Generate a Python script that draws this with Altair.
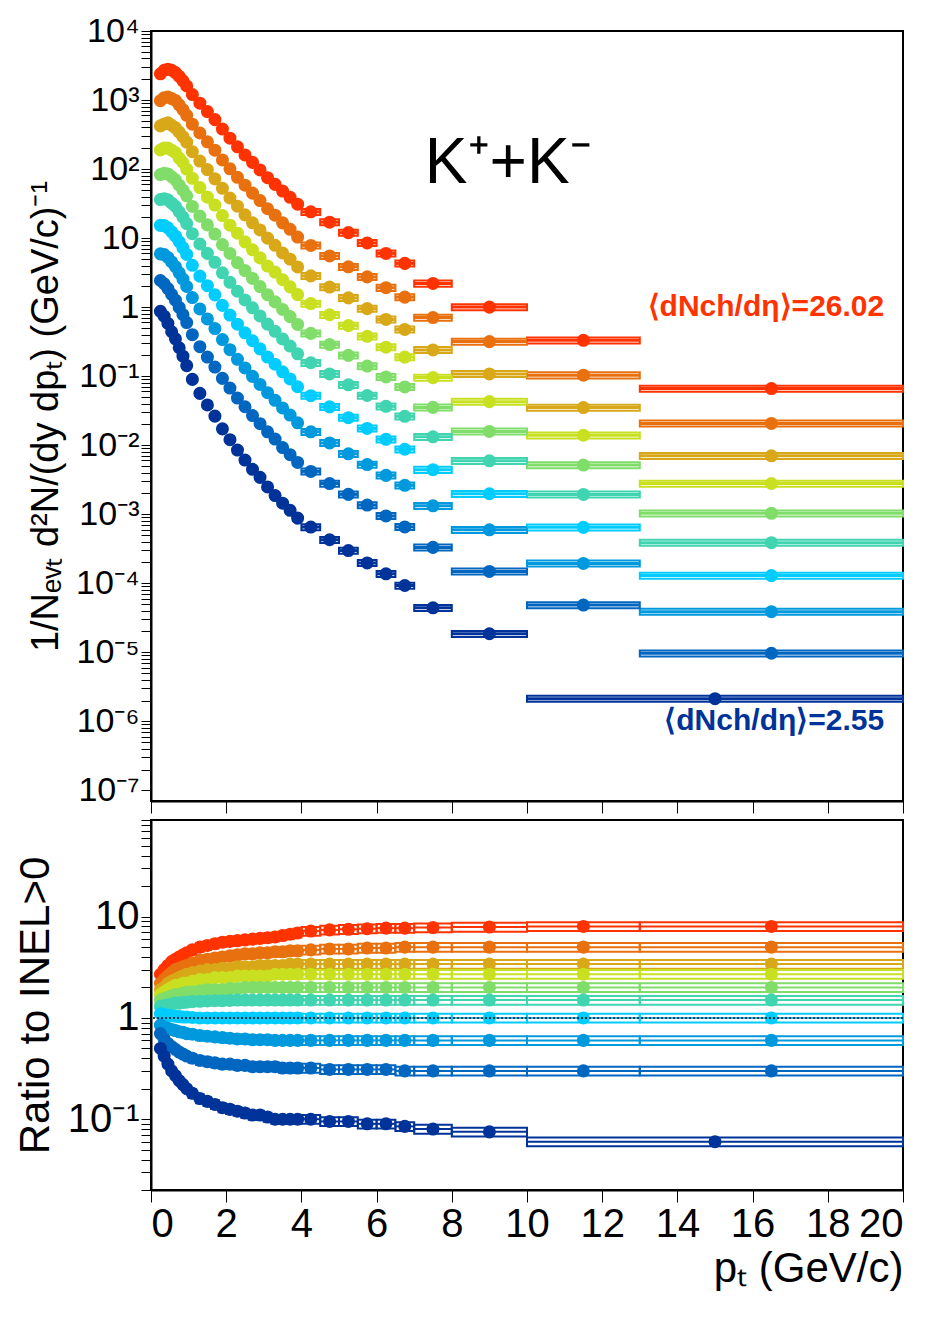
import altair as alt
import pandas as pd

edges = [0.2,0.3,0.4,0.5,0.6,0.7,0.8,0.9,1.0,1.2,1.4,1.6,1.8,2.0,2.2,2.4,2.6,2.8,3.0,3.2,3.4,3.6,3.8,4.0,4.5,5.0,5.5,6.0,6.5,7.0,8.0,10.0,13.0,20.0]
# highest-multiplicity (red) spectrum
red_spec = [2400,2700,2800,2700,2500,2200,1900,1600,1200,900,680,520,380,280,210,160,125,97,75,60,48,39,31,24,17,12,8.5,6.0,4.3,2.2,1.0,0.33,0.066]
names = ["c1","c2","c3","c4","c5","c6","c7","c8","c9","c10"]
colors = ["#ff3300","#e8700f","#d9a818","#c8e020","#80dd6a","#40d4b0","#00ccff","#0099dd","#0066c0","#003399"]
scales = [512,256,128,64,32,16,8,4,2,1]
ratios = [
 [2.7,3.0,3.3,3.6,3.8,4.0,4.2,4.4,4.7,5.0,5.2,5.4,5.6,5.7,5.8,5.9,6.0,6.1,6.2,6.3,6.5,6.7,6.9,7.2,7.4,7.5,7.6,7.7,7.7,7.8,7.9,8.0,8.0],
 [2.2,2.4,2.6,2.8,3.0,3.1,3.2,3.3,3.5,3.7,3.8,3.9,4.0,4.1,4.2,4.3,4.3,4.4,4.4,4.5,4.5,4.6,4.6,4.7,4.8,4.8,4.9,4.9,5.0,5.0,5.0,5.0,5.0],
 [1.9,2.0,2.2,2.3,2.4,2.5,2.6,2.7,2.8,2.9,3.0,3.0,3.1,3.1,3.2,3.2,3.2,3.3,3.3,3.3,3.3,3.4,3.4,3.4,3.4,3.4,3.4,3.4,3.4,3.4,3.4,3.4,3.4],
 [1.7,1.8,1.9,2.0,2.1,2.1,2.2,2.2,2.3,2.4,2.4,2.5,2.5,2.5,2.6,2.6,2.6,2.6,2.6,2.7,2.7,2.7,2.7,2.7,2.7,2.7,2.7,2.7,2.7,2.7,2.7,2.7,2.7],
 [1.5,1.55,1.6,1.65,1.7,1.7,1.75,1.8,1.8,1.85,1.9,1.9,1.9,1.95,1.95,2.0,2.0,2.0,2.0,2.0,2.0,2.0,2.0,2.0,2.0,2.0,2.0,2.0,2.0,2.0,2.0,2.0,2.0],
 [1.3,1.32,1.35,1.37,1.4,1.4,1.42,1.43,1.45,1.46,1.47,1.48,1.48,1.49,1.5,1.5,1.5,1.5,1.5,1.5,1.5,1.5,1.5,1.5,1.5,1.5,1.5,1.5,1.5,1.5,1.5,1.5,1.5],
 [1.1,1.08,1.06,1.05,1.04,1.03,1.02,1.02,1.01,1.0,1.0,1.0,1.0,1.0,1.0,1.0,1.0,1.0,1.0,1.0,1.0,1.0,1.0,1.0,1.0,1.0,1.0,1.0,1.0,1.0,1.0,1.0,1.0],
 [0.85,0.82,0.79,0.77,0.75,0.73,0.72,0.7,0.69,0.67,0.66,0.65,0.64,0.63,0.62,0.62,0.61,0.61,0.61,0.6,0.6,0.6,0.6,0.6,0.6,0.6,0.6,0.6,0.6,0.6,0.6,0.6,0.6],
 [0.7,0.62,0.56,0.52,0.49,0.46,0.44,0.42,0.4,0.38,0.37,0.36,0.35,0.35,0.34,0.34,0.33,0.33,0.33,0.33,0.32,0.32,0.32,0.32,0.31,0.31,0.31,0.31,0.3,0.3,0.3,0.3,0.3],
 [0.5,0.42,0.35,0.3,0.27,0.24,0.22,0.2,0.18,0.16,0.15,0.14,0.13,0.125,0.12,0.115,0.11,0.11,0.105,0.1,0.1,0.1,0.1,0.1,0.095,0.095,0.09,0.09,0.085,0.08,0.075],
]
lowest_last_edges = [10.0, 20.0]
lowest_last_ratio = 0.06

inel = [s / (512 * r) for s, r in zip(red_spec, ratios[0])]
inel_10_20 = (3 * inel[-2] + 7 * inel[-1]) / 10

rows = []
for i in range(10):
    for b in range(len(ratios[i])):
        x0, x1 = edges[b], edges[b + 1]
        r = ratios[i][b]
        rows.append(dict(s=names[i], x0=x0, x1=x1, xc=(x0 + x1) / 2, y=r * inel[b] * scales[i], r=r))
    if i == 9:
        x0, x1 = lowest_last_edges
        r = lowest_last_ratio
        rows.append(dict(s=names[i], x0=x0, x1=x1, xc=15.0, y=r * inel_10_20, r=r))
df = pd.DataFrame(rows)
df["ylo"] = df.y * 0.9
df["yhi"] = df.y * 1.1
df["rlo"] = df.r * 0.9
df["rhi"] = df.r * 1.1

FONT = "Liberation Sans"
col = alt.Color("s:N", scale=alt.Scale(domain=names, range=colors), legend=None)
xs = alt.Scale(domain=[0, 20], nice=False)
sup = "{'-7':'10⁻⁷','-6':'10⁻⁶','-5':'10⁻⁵','-4':'10⁻⁴','-3':'10⁻³','-2':'10⁻²','-1':'10⁻¹','0':'1','1':'10','2':'10²','3':'10³','4':'10⁴'}"
lab = "abs(log(datum.value)/LN10 - round(log(datum.value)/LN10)) < 0.01 ? " + sup + "[''+round(log(datum.value)/LN10)] : ''"

top_ticks = [m * 10 ** e for e in range(-7, 4) for m in range(1, 10)] + [1e4]
bot_ticks = [m * 10 ** e for e in range(-2, 2) for m in range(1, 10) if 0.02 <= m * 10 ** e <= 90]

base = alt.Chart(df)
ys = alt.Scale(type="log", domain=[7e-8, 1e4], nice=False)
xax_top = alt.Axis(labels=False, title=None, values=list(range(0, 21, 2)), tickSize=12, grid=False)
yax_top = alt.Axis(values=top_ticks, labelExpr=lab, labelFontSize=34, labelFont=FONT, grid=False, tickSize=10,
                   title="1/Nₑᵥₜ d²N/(dy dpₜ) (GeV/c)⁻¹", titleFontSize=38, titleFont=FONT, titleFontWeight="normal", titlePadding=10)
box = base.mark_rect(filled=False, strokeWidth=2).encode(
    x=alt.X("x0:Q", scale=xs, axis=xax_top), x2="x1", y=alt.Y("ylo:Q", scale=ys, axis=yax_top), y2="yhi", stroke=col)
err = base.mark_rule(strokeWidth=3).encode(x="x0:Q", x2="x1", y="y:Q", color=col)
pts = base.mark_circle(size=170, opacity=1).encode(x="xc:Q", y="y:Q", color=col)
txt = pd.DataFrame(dict(x=[9.5, 19.5, 19.5], y=[120, 1.0, 1.0e-6], t=["K⁺+K⁻", "⟨dNch/dη⟩=26.02", "⟨dNch/dη⟩=2.55"], c=["black", "#ff3300", "#003399"]))
title_k = alt.Chart(txt.iloc[[0]]).mark_text(fontSize=64, font=FONT, align="center").encode(x="x:Q", y="y:Q", text="t:N", color=alt.Color("c:N", scale=None))
lbls = alt.Chart(txt.iloc[1:]).mark_text(fontSize=30, font=FONT, fontWeight="bold", align="right", baseline="middle").encode(
    x="x:Q", y="y:Q", text="t:N", color=alt.Color("c:N", scale=None))
top = alt.layer(box, err, pts, title_k, lbls).properties(width=752, height=770)

rs = alt.Scale(type="log", domain=[0.02, 90], nice=False)
xax_bot = alt.Axis(values=list(range(0, 21, 2)), labelFontSize=40, labelFont=FONT, grid=False, tickSize=12,
                   title="pₜ (GeV/c)", titleFontSize=42, titleFont=FONT, titleFontWeight="normal", titleAnchor="end", titlePadding=4)
yax_bot = alt.Axis(values=bot_ticks, labelExpr=lab, labelFontSize=40, labelFont=FONT, grid=False, tickSize=10,
                   title="Ratio to INEL>0", titleFontSize=42, titleFont=FONT, titleFontWeight="normal", titlePadding=10)
rbox = base.mark_rect(filled=False, strokeWidth=2).encode(
    x=alt.X("x0:Q", scale=xs, axis=xax_bot), x2="x1", y=alt.Y("rlo:Q", scale=rs, axis=yax_bot), y2="rhi", stroke=col)
rerr = base.mark_rule(strokeWidth=2).encode(x="x0:Q", x2="x1", y="r:Q", color=col)
rpts = base.mark_circle(size=170, opacity=1).encode(x="xc:Q", y="r:Q", color=col)
one = alt.Chart(pd.DataFrame(dict(v=[1.0]))).mark_rule(strokeDash=[2, 2], color="black", strokeWidth=1.5).encode(y="v:Q")
bot = alt.layer(rbox, rerr, rpts, one).properties(width=752, height=370)

chart = alt.vconcat(top, bot, spacing=3).configure_view(stroke="black", strokeWidth=2).configure_axis(
    domainColor="black", tickColor="black", labelColor="black", titleColor="black", domainWidth=2)
chart.save("out.html", embed_options={"renderer": "svg", "actions": False})
